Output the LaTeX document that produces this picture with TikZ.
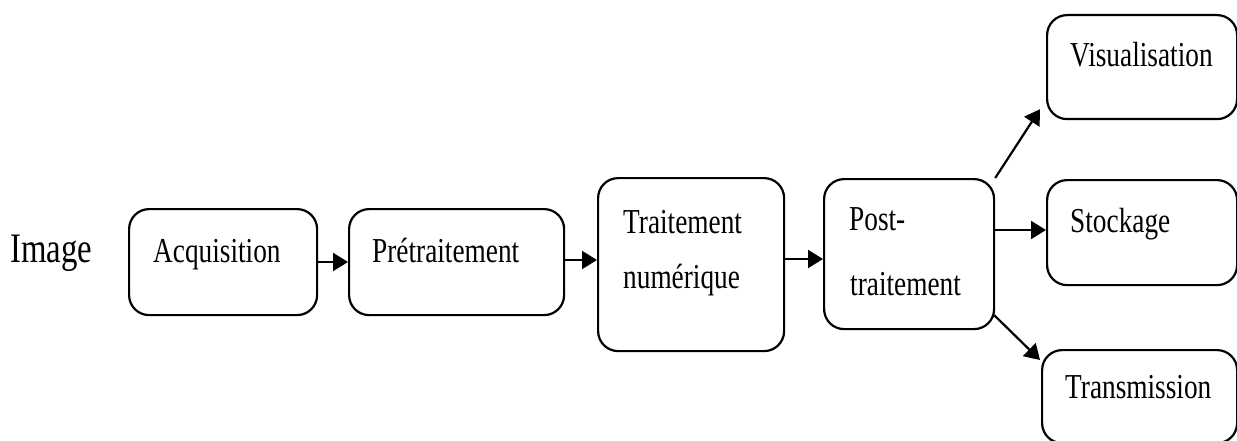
\documentclass[tikz,border=0pt]{standalone}
\usepackage{fontspec}
\setmainfont{Liberation Serif}[FakeStretch=0.78]
\usetikzlibrary{arrows.meta,calc}
\tikzset{
  stepbox/.style={draw=black, line width=2.2pt, rounded corners=20pt,
    minimum width=#1, inner sep=0pt, anchor=north west},
  lbl/.style={anchor=base west, inner sep=0pt, font=\fontsize{35}{42}\selectfont},
  flow/.style={line width=2.2pt, -{Triangle[length=15pt,width=18pt]}}
}
\begin{document}
\begin{tikzpicture}[x=1pt,y=-1pt]
\useasboundingbox (0,0) rectangle (1237,441);

% processing boxes
\node[stepbox=188pt, minimum height=106pt] (acq)   at (128,208) {};
\node[stepbox=215pt, minimum height=106pt] (pre)   at (348,208) {};
\node[stepbox=186pt, minimum height=173pt] (trait) at (597,177) {};
\node[stepbox=170pt, minimum height=150pt] (post)  at (823,178) {};
\node[stepbox=190pt, minimum height=104pt] (vis)   at (1046,14) {};
\node[stepbox=190pt, minimum height=105pt] (stock) at (1046,179) {};
\node[stepbox=195pt, minimum height=93pt]  (trans) at (1041,349) {};

% labels
\node[anchor=base west, inner sep=0pt, font=\fontsize{42}{50}\selectfont] (img) at (10,262) {Image};
\node[lbl] (tacq)   at (153,262) {Acquisition};
\node[lbl] (tpre)   at (372,262) {Prétraitement};
\node[lbl] (ttr1)   at (623,233) {Traitement};
\node[lbl] (ttr2)   at (623,288) {numérique};
\node[lbl] (tpo1)   at (849,230) {Post-};
\node[lbl] (tpo2)   at (850,295) {traitement};
\node[lbl] (tvis)   at (1070,67) {Visualisation};
\node[lbl] (tsto)   at (1070,232) {Stockage};
\node[lbl] (ttra)   at (1065,398) {Transmission};

% connectors
\draw[flow] (acq.east |- 0,262) -- (pre.west |- 0,262);
\draw[flow] (pre.east |- 0,260) -- (trait.west |- 0,260);
\draw[flow] (trait.east |- 0,259) -- (post.west |- 0,259);
\draw[flow] (post.north east) -- ($(vis.south west)+(-6,-11)$);
\draw[flow] (post.east |- 0,230) -- (stock.west |- 0,230);
\draw[flow] ($(post.south east)+(-1,-15)$) -- ($(trans.north west)+(-1,11)$);
\end{tikzpicture}
\end{document}
